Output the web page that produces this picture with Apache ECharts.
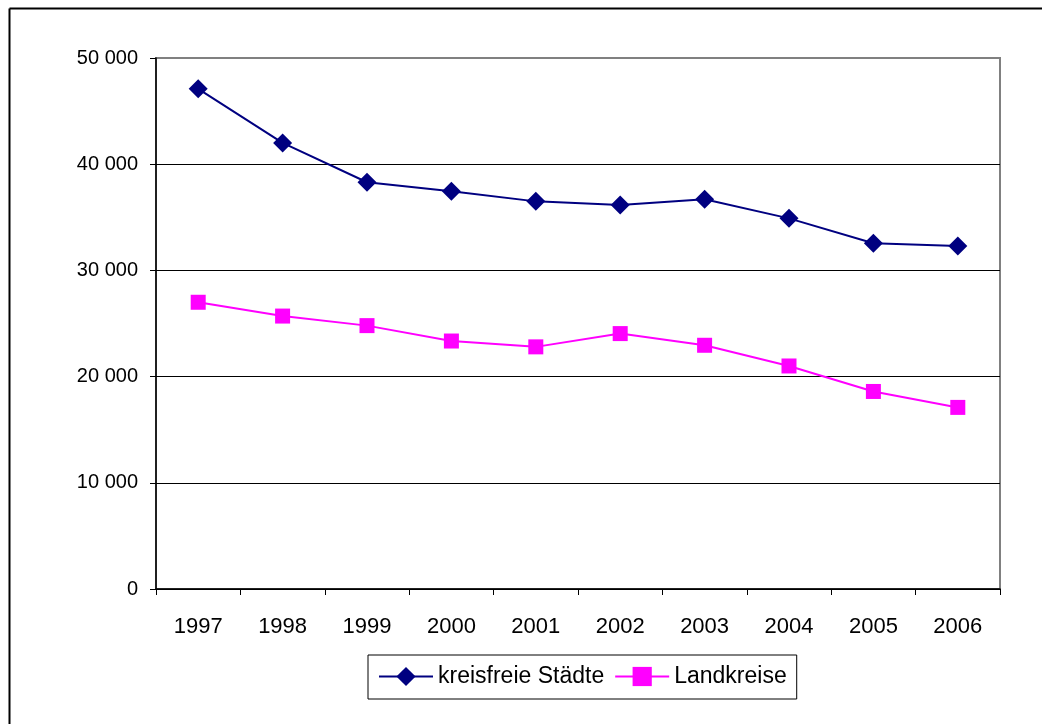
<!DOCTYPE html>
<html><head><meta charset="utf-8">
<script src="https://cdn.jsdelivr.net/npm/echarts@6/dist/echarts.min.js"></script>
<style>html,body{margin:0;padding:0;background:#fff}#c{width:1042px;height:724px}</style>
</head><body><div id="c"></div>
<script>
var years = ['1997','1998','1999','2000','2001','2002','2003','2004','2005','2006'];
var kreisfreie = [47100, 42000, 38300, 37450, 36500, 36150, 36700, 34900, 32550, 32300];
var landkreise = [27000, 25700, 24800, 23350, 22800, 24050, 22950, 21000, 18600, 17100];
var seriesNames = ['kreisfreie Städte', 'Landkreise'];

var chart = echarts.init(document.getElementById('c'), null, {renderer:'canvas'});
var font = 'Liberation Sans, Arial, sans-serif';
chart.setOption({
  animation:false,
  backgroundColor:'#fff',
  graphic:[
    {type:'line', shape:{x1:9.5,y1:8.5,x2:1042,y2:8.5}, style:{stroke:'#000',lineWidth:2}},
    {type:'line', shape:{x1:9.5,y1:8.5,x2:9.5,y2:724}, style:{stroke:'#000',lineWidth:2}}
  ],
  grid:{left:156,right:42,top:58,bottom:135,show:true,borderColor:'#808080',borderWidth:2,backgroundColor:'transparent'},
  legend:{
    left:368, top:655,
    padding:[10,10,11,10],
    borderColor:'#000', borderWidth:1,
    itemWidth:54, itemHeight:24, itemGap:10,
    textStyle:{fontFamily:font,fontSize:23,color:'#000'},
    data:seriesNames
  },
  xAxis:{
    type:'category', data:years, boundaryGap:true,
    axisLine:{lineStyle:{color:'#000',width:1.5}},
    axisTick:{show:true,length:6,lineStyle:{color:'#000'}},
    axisLabel:{fontFamily:font,fontSize:22,color:'#000',margin:27},
    splitLine:{show:false}
  },
  yAxis:{
    type:'value', min:0, max:50000, interval:10000,
    axisLine:{show:true,lineStyle:{color:'#000',width:1.5}},
    axisTick:{show:true,length:6,lineStyle:{color:'#000'}},
    axisLabel:{fontFamily:font,fontSize:20,color:'#000',margin:18,
      formatter:function(v){return v===0?'0':(v/1000)+' 000';}},
    splitLine:{show:true,lineStyle:{color:['#000','#000','#000','#000','#000','#808080'],width:1}}
  },
  series:[
    {name:seriesNames[0], type:'line', data:kreisfreie, symbol:'diamond', symbolSize:19,
     itemStyle:{color:'#000080'}, lineStyle:{color:'#000080',width:2}},
    {name:seriesNames[1], type:'line', data:landkreise, symbol:'rect', symbolSize:15,
     itemStyle:{color:'#FF00FF'}, lineStyle:{color:'#FF00FF',width:2}}
  ]
});
</script></body></html>
